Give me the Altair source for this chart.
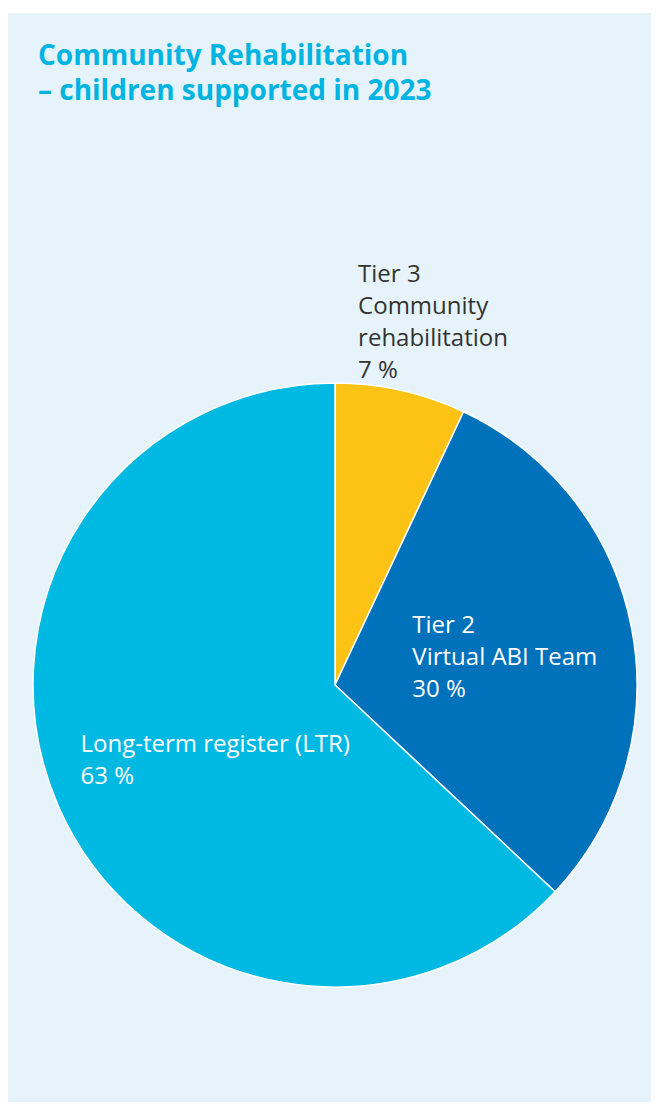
import altair as alt
import pandas as pd

categories = ["Tier 3", "Tier 2", "LTR"]
labels = [
    "Tier 3\nCommunity\nrehabilitation\n7 %",
    "Tier 2\nVirtual ABI Team\n30 %",
    "Long-term register (LTR)\n63 %",
]
values = [7, 30, 63]
order = [1, 2, 3]
colors = ["#fdc314", "#0071bb", "#00b9e3"]
title_lines = "Community Rehabilitation\n– children supported in 2023"

df = pd.DataFrame({"cat": categories, "label": labels, "value": values, "ord": order})

FONT = "Open Sans"
CX, CY = 327, 672  # pie centre inside the panel

base = alt.Chart(df).encode(
    theta=alt.Theta("value:Q", stack=True),
    order=alt.Order("ord:Q", sort="ascending"),
)

pie = base.mark_arc(outerRadius=302, stroke="white", strokeWidth=1.5).encode(
    color=alt.Color("cat:N", scale=alt.Scale(domain=categories, range=colors), legend=None),
    x=alt.value(CX),
    y=alt.value(CY),
)


def label_layer(cat, radius, dx, dy, color):
    return (
        base.transform_calculate(show=f"datum.cat === '{cat}' ? datum.label : ''")
        .mark_text(
            radius=radius, dx=dx, dy=dy, align="left", baseline="alphabetic",
            lineBreak="\n", lineHeight=32, font=FONT, fontSize=24, color=color,
        )
        .encode(text="show:N", detail="cat:N", x=alt.value(CX), y=alt.value(CY))
    )


t3 = label_layer("Tier 3", 413, -67, 0, "#333333")
t2 = label_layer("Tier 2", 150, -70, -24, "white")
ltr = label_layer("LTR", 200, -71, -12, "white")

title = alt.Chart(pd.DataFrame({"t": [title_lines]})).mark_text(
    align="left", baseline="alphabetic", lineBreak="\n", lineHeight=35,
    font=FONT, fontSize=28, fontWeight="bold", color="#00b4e1",
).encode(text="t:N", x=alt.value(30), y=alt.value(52))

chart = (
    alt.layer(pie, t3, t2, ltr, title)
    .properties(
        width=643, height=1089, background="white",
        padding={"top": 5, "left": 0, "right": 0, "bottom": 0},
        autosize=alt.AutoSizeParams(type="none"),
    )
    .configure_view(fill="#e6f3fa", stroke=None)
)

chart.save("out.html", embed_options={"renderer": "svg", "actions": False})
